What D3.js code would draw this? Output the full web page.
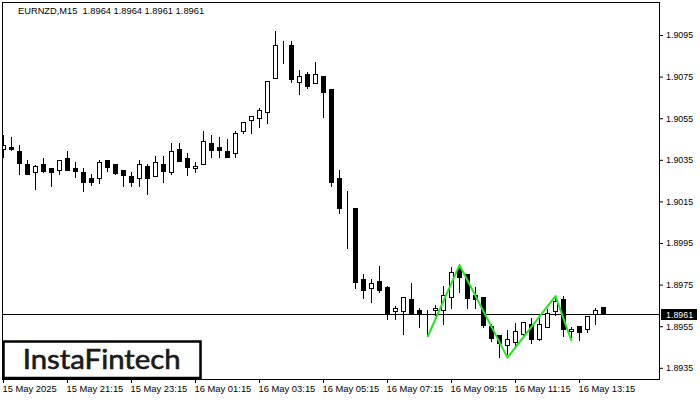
<!DOCTYPE html>
<html><head><meta charset="utf-8">
<script src="https://cdn.jsdelivr.net/npm/d3@7"></script>
<style>html,body{margin:0;padding:0;background:#fff;} svg{display:block;}</style>
</head><body><svg id="c" width="700" height="400"></svg>
<script>
const titleText = "EURNZD,M15  1.8964 1.8964 1.8961 1.8961";
const lastPrice = 1.8961;
const openP = [1.90400,1.90413,1.90390,1.90330,1.90290,1.90328,1.90309,1.90300,1.90357,1.90311,
1.90290,1.90261,1.90261,1.90349,1.90328,1.90301,1.90272,1.90261,1.90320,1.90271,
1.90328,1.90290,1.90402,1.90359,1.90309,1.90328,1.90429,1.90410,1.90392,1.90381,
1.90488,1.90541,1.90550,1.90578,1.90742,1.90912,1.90902,1.90725,1.90762,1.90718,
1.90753,1.90690,1.90261,1.90128,1.90117,1.89777,1.89735,1.89767,1.89737,1.89625,
1.89623,1.89679,1.89628,1.89618,1.89628,1.89628,1.89689,1.89828,1.89801,1.89700,
1.89692,1.89551,1.89508,1.89460,1.89476,1.89512,1.89559,1.89487,1.89548,1.89625,
1.89681,1.89527,1.89551,1.89535,1.89607,1.89640];
const highP = [1.90469,1.90458,1.90421,1.90349,1.90325,1.90357,1.90309,1.90349,1.90392,1.90338,
1.90309,1.90280,1.90349,1.90349,1.90328,1.90301,1.90290,1.90349,1.90328,1.90368,
1.90368,1.90429,1.90429,1.90381,1.90341,1.90488,1.90469,1.90460,1.90450,1.90488,
1.90530,1.90559,1.90601,1.90729,1.90969,1.90921,1.90921,1.90782,1.90774,1.90820,
1.90753,1.90690,1.90301,1.90200,1.90117,1.89800,1.89777,1.89839,1.89745,1.89649,
1.89690,1.89756,1.89639,1.89628,1.89652,1.89745,1.89836,1.89848,1.89801,1.89737,
1.89692,1.89559,1.89508,1.89532,1.89564,1.89569,1.89588,1.89590,1.89633,1.89692,
1.89697,1.89548,1.89551,1.89599,1.89639,1.89640];
const lowP = [1.90365,1.90398,1.90282,1.90280,1.90208,1.90290,1.90226,1.90280,1.90300,1.90269,
1.90200,1.90229,1.90237,1.90298,1.90280,1.90226,1.90226,1.90226,1.90184,1.90271,
1.90245,1.90280,1.90346,1.90277,1.90290,1.90328,1.90365,1.90365,1.90365,1.90365,
1.90477,1.90477,1.90509,1.90528,1.90742,1.90817,1.90725,1.90666,1.90697,1.90718,
1.90557,1.90226,1.90096,1.89927,1.89735,1.89687,1.89668,1.89716,1.89585,1.89585,
1.89514,1.89615,1.89548,1.89503,1.89604,1.89559,1.89636,1.89716,1.89636,1.89636,
1.89548,1.89479,1.89403,1.89415,1.89460,1.89508,1.89468,1.89484,1.89548,1.89604,
1.89503,1.89500,1.89484,1.89524,1.89559,1.89610];
const closeP = [1.90421,1.90400,1.90337,1.90282,1.90318,1.90298,1.90290,1.90349,1.90300,1.90298,
1.90245,1.90245,1.90338,1.90317,1.90287,1.90277,1.90245,1.90328,1.90261,1.90338,
1.90298,1.90392,1.90346,1.90317,1.90320,1.90440,1.90397,1.90397,1.90365,1.90477,
1.90530,1.90559,1.90589,1.90729,1.90902,1.90912,1.90738,1.90753,1.90705,1.90762,
1.90677,1.90245,1.90117,1.90128,1.89764,1.89724,1.89756,1.89724,1.89615,1.89638,
1.89690,1.89615,1.89609,1.89618,1.89639,1.89700,1.89809,1.89788,1.89687,1.89679,
1.89556,1.89495,1.89468,1.89487,1.89525,1.89569,1.89487,1.89559,1.89615,1.89671,
1.89535,1.89537,1.89524,1.89599,1.89628,1.89610];
const xTickIdx = [0,8,16,24,32,40,48,56,64,72];
const xTickLabels = ["15 May 2025","15 May 21:15","15 May 23:15","16 May 01:15","16 May 03:15",
"16 May 05:15","16 May 07:15","16 May 09:15","16 May 11:15","16 May 13:15"];
const yTicks = [1.9095,1.9075,1.9055,1.9035,1.9015,1.8995,1.8975,1.8955,1.8935];
const patternIdx = [53,57,63,69,71];
const patternPrice = [1.89498,1.89844,1.89399,1.89695,1.89479];

const svg = d3.select("#c");
svg.append("rect").attr("width",700).attr("height",400).attr("fill","#fff");

const x = d3.scaleLinear().domain([0, openP.length-1]).range([3, 3 + 8*(openP.length-1)]);
const y = d3.scaleLinear().domain([1.8929135, 1.9110865]).range([380, 2]);

svg.append("defs").append("clipPath").attr("id","plot")
  .append("rect").attr("x",3).attr("y",3).attr("width",656).attr("height",376);

const plot = svg.append("g").attr("clip-path","url(#plot)");

// price line
const py = Math.round(y(lastPrice)) + 0.5;
plot.append("line").attr("x1",2).attr("x2",660).attr("y1",py).attr("y2",py)
  .attr("stroke","#000").attr("stroke-width",1);

const data = openP.map((o,i)=>({i,o,h:highP[i],l:lowP[i],c:closeP[i]}));
const cg = plot.append("g");
const cand = cg.selectAll("g").data(data).join("g");
cand.append("line")
  .attr("x1",d=>x(d.i)+0.5).attr("x2",d=>x(d.i)+0.5)
  .attr("y1",d=>Math.round(y(d.h))).attr("y2",d=>Math.round(y(d.l))+1)
  .attr("stroke","#000").attr("stroke-width",1);
cand.each(function(d){
  const g = d3.select(this);
  const top = Math.round(y(Math.max(d.o,d.c)));
  const bot = Math.round(y(Math.min(d.o,d.c)));
  if (d.c < d.o) {
    g.append("rect").attr("x",x(d.i)-2).attr("y",top).attr("width",5)
      .attr("height",Math.max(1,bot-top+1)).attr("fill","#000");
  } else {
    g.append("rect").attr("x",x(d.i)-1.5).attr("y",top+0.5).attr("width",4)
      .attr("height",Math.max(0,bot-top)).attr("fill","#fff").attr("stroke","#000").attr("stroke-width",1);
  }
});

// pattern zigzag
const pl = d3.line().x(d=>x(d[0])+0.5).y(d=>y(d[1]));
plot.append("path").datum(patternIdx.map((v,k)=>[v,patternPrice[k]]))
  .attr("d",pl).attr("fill","none").attr("stroke","#22e622").attr("stroke-width",2)
  .attr("stroke-linejoin","round");

// frame
svg.append("rect").attr("x",2.5).attr("y",2.5).attr("width",657).attr("height",377)
  .attr("fill","none").attr("stroke","#000").attr("stroke-width",1);

// right axis
const yAxis = d3.axisRight(y).tickValues(yTicks).tickFormat(d3.format(".4f")).tickSize(3).tickPadding(3);
const ya = svg.append("g").attr("transform","translate(660,0)").call(yAxis);
ya.select(".domain").remove();
ya.selectAll("text").attr("font-family","Liberation Sans, Arial, sans-serif").attr("font-size","8.9px").attr("fill","#000");
ya.selectAll("line").attr("stroke","#000");

// bottom axis
const xAxis = d3.axisBottom(x).tickValues(xTickIdx).tickFormat((d,k)=>xTickLabels[k]).tickSize(3).tickPadding(2.5);
const xa = svg.append("g").attr("transform","translate(0,380)").call(xAxis);
xa.select(".domain").remove();
xa.selectAll("text").attr("text-anchor","start").attr("x",-1)
  .attr("font-family","Liberation Sans, Arial, sans-serif").attr("font-size","9.4px").attr("fill","#000");
xa.selectAll("line").attr("stroke","#000");

// last price label
svg.append("rect").attr("x",661).attr("y",py-5.5).attr("width",36).attr("height",11).attr("fill","#000");
svg.append("text").attr("x",666).attr("y",py).attr("dy","0.34em").text(d3.format(".4f")(lastPrice))
  .attr("font-family","Liberation Sans, Arial, sans-serif").attr("font-size","8.9px").attr("fill","#fff");

// title
svg.append("text").attr("x",18).attr("y",14).attr("xml:space","preserve").style("white-space","pre")
  .attr("font-family","Liberation Sans, Arial, sans-serif").attr("font-size","9.3px").attr("fill","#000")
  .text(titleText);

// logo
svg.append("rect").attr("x",3.5).attr("y",341.5).attr("width",197).attr("height",36.5)
  .attr("fill","#fff").attr("stroke","#000").attr("stroke-width",2.5);
svg.append("text").attr("x",22.7).attr("y",369).attr("font-family","Lato, sans-serif")
  .attr("font-weight",400).attr("font-size","27px").attr("fill","#1a1a1a")
  .attr("stroke","#1a1a1a").attr("stroke-width",0.6)
  .attr("textLength",158).attr("lengthAdjust","spacingAndGlyphs").text("InstaFintech");
</script></body></html>
